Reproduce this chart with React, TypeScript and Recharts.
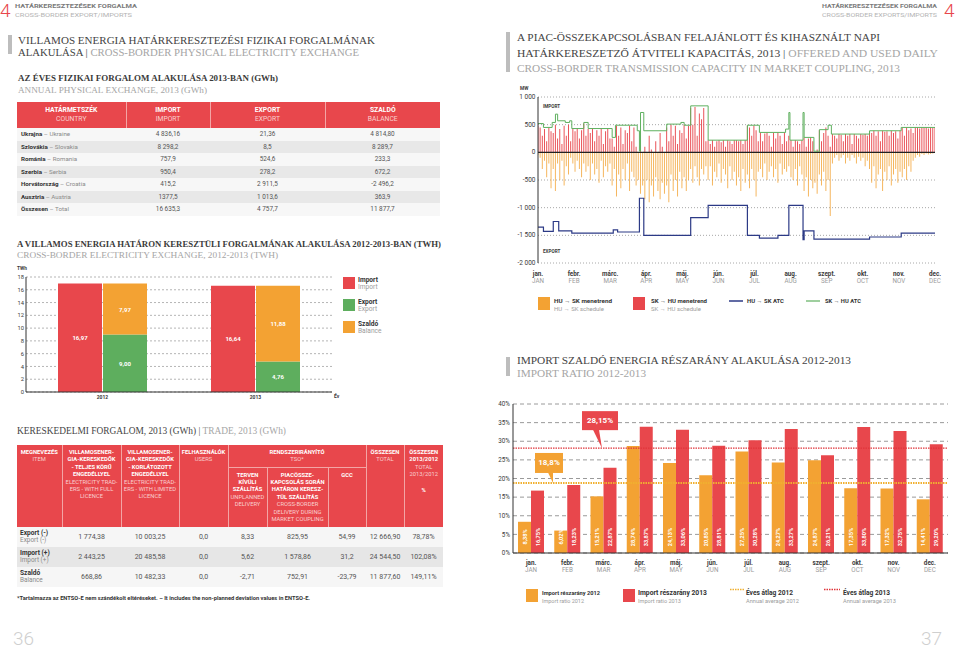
import React from 'react';
import {
  BarChart, Bar, XAxis, YAxis, CartesianGrid, LabelList, ReferenceLine,
  ComposedChart, Line,
} from 'recharts';

const SANS = 'Roboto, "Noto Sans", sans-serif';
const SERIF = '"Liberation Serif", "DejaVu Serif", serif';
const RED = '#e8474c';
const ORANGE = '#f3a233';
const GREEN = '#5fb05f';
const NAVY = '#2c3a86';
const DARK = '#3a3a3a';
const GRAY = '#9c9c9c';
const PINK = '#f9cfcf';
const TITLE_DARK = '#444';
const TITLE_GRAY = '#a5a5a5';

// ---------- Table 1: annual physical exchange 2013 (GWh)
const T1_HEAD_HU = ['HATÁRMETSZÉK', 'IMPORT', 'EXPORT', 'SZALDÓ'];
const T1_HEAD_EN = ['COUNTRY', 'IMPORT', 'EXPORT', 'BALANCE'];
const T1_COUNTRY_HU = ['Ukrajna', 'Szlovákia', 'Románia', 'Szerbia', 'Horvátország', 'Ausztria', 'Összesen'];
const T1_COUNTRY_EN = ['Ukraine', 'Slovakia', 'Romania', 'Serbia', 'Croatia', 'Austria', 'Total'];
const T1_IMPORT = ['4 836,16', '8 298,2', '757,9', '950,4', '415,2', '1377,5', '16 635,3'];
const T1_EXPORT = ['21,36', '8,5', '524,6', '278,2', '2 911,5', '1 013,6', '4 757,7'];
const T1_BALANCE = ['4 814,80', '8 289,7', '233,3', '672,2', '-2 496,2', '363,9', '11 877,7'];

// ---------- TWh chart
const TWH_YEARS = ['2012', '2013'];
const TWH_IMPORT = [16.97, 16.64];
const TWH_EXPORT = [9.0, 4.76];
const TWH_BALANCE = [7.97, 11.88];
const TWH_TICKS = [0, 2, 4, 6, 8, 10, 12, 14, 16, 18];

// ---------- Trade table
const TR_ITEM_HU = ['Export (-)', 'Import (+)', 'Szaldó'];
const TR_ITEM_EN = ['Export (-)', 'Import (+)', 'Balance'];
const TR_FULL = ['1 774,38', '2 443,25', '668,86'];
const TR_LIMITED = ['10 003,25', '20 485,58', '10 482,33'];
const TR_USERS = ['0,0', '0,0', '0,0'];
const TR_UNPLANNED = ['8,33', '5,62', '-2,71'];
const TR_COUPLING = ['825,95', '1 578,86', '752,91'];
const TR_GCC = ['54,99', '31,2', '-23,79'];
const TR_TOTAL = ['12 666,90', '24 544,50', '11 877,60'];
const TR_RATIO = ['78,78%', '102,08%', '149,11%'];

// ---------- Daily capacity chart (MW), one value per 2 days
const MONTH_HU = ['jan.', 'febr.', 'márc.', 'ápr.', 'máj.', 'jún.', 'júl.', 'aug.', 'szept.', 'okt.', 'nov.', 'dec.'];
const MONTH_EN = ['JAN', 'FEB', 'MAR', 'APR', 'MAY', 'JUN', 'JUL', 'AUG', 'SEP', 'OCT', 'NOV', 'DEC'];
const DAY_STEP = 2;
const SKHU_SCHEDULE = [
  480, 450, 300, 420, 200, 440, 380,
  350, 500, 250, 420, 150, 480, 300, 500, 200,
  420, 380, 430, 250, 400,
  520, 300,
  420, 350, 430, 200, 400, 300, 420, 150, 380, 420, 250,
  250, 100,
  480, 300, 450, 150, 400, 350, 480, 200, 450, 100,
  0, 50, 0,
  100, 0, 300, 50, 0, 200, 0, 350, 100, 0,
  450, 200, 500, 300, 480, 150, 400,
  350, 500, 250, 480,
  800, 500, 820, 300, 700, 600, 800, 200,
  220, 150, 220, 100, 200, 220, 180, 220, 100, 220, 200, 150, 220, 220,
  200, 220, 150, 220,
  480, 450, 300, 480, 400, 200,
  350, 200, 340, 360, 300, 100, 350, 250, 360, 300, 150, 350,
  200, 300, 220, 100, 220, 200, 150, 220,
  270, 100, 250, 270, 200,
  0, 50,
  400, 200, 350, 450, 300, 100,
  330, 300, 250, 330, 320, 200, 330, 300, 330, 150, 330, 300, 250, 330, 320, 330, 300,
  380, 350, 390, 300, 380, 200, 390, 370, 380, 300, 390, 350, 380, 250, 390,
  440, 300, 450, 400, 430, 350,
  440, 450, 430, 450, 440, 450, 430, 450, 440, 450,
];
const HUSK_SCHEDULE = [
  -50, -100, -300, -150, -450, -200, -650,
  -300, -700, -200, -500, -150, -600, -250, -400, -100,
  -200, -350, -150, -300, -450,
  -200, -350,
  -250, -500, -200, -400, -300, -550, -150, -450, -250, -350, -200,
  -600, -300,
  -800, -400, -650, -300, -500, -200, -700, -350, -450, -600,
  -500, -750, -600,
  -850, -500, -900, -600, -800, -450, -700, -850, -550, -750,
  -600, -900, -400, -700, -500, -800, -350,
  -650, -450, -700, -500,
  -300, -550, -250, -450, -600, -300, -400, -250,
  -500, -250, -600, -350, -450, -200, -550, -300, -400, -650, -250, -500, -350, -600,
  -450, -700, -300, -550,
  -400, -650, -300, -500, -800, -350,
  -300, -450, -200, -500, -350, -250, -450, -300, -550, -200, -400, -300,
  -350, -250, -450, -500, -300, -600, -250, -400,
  -700, -450, -800, -500, -650,
  -550, -750,
  -400, -600, -350, -700, -500, -1150,
  -200, -100, -50, -150, -100, -50, -200, -100, -150, -50, -100, -200, -80, -150, -100, -250, -150,
  -300, -550, -250, -650, -400, -300, -700, -350, -500, -250, -600, -400, -300, -550, -350,
  -450, -300, -500, -250, -350, -150,
  -100, -50, -80, -30, -50, -20, -40, -30, -20, -10,
];
const SKHU_ATC_DAY = [0, 5, 13, 16, 18, 25, 29, 31, 42, 46, 68, 71, 91, 93, 94, 97, 118, 131, 134, 140, 156, 192, 203, 227, 230, 231, 243, 244, 253, 258, 266, 269, 304, 333, 364];
const SKHU_ATC_MW = [520, 450, 540, 690, 570, 540, 570, 430, 540, 430, 270, 490, 390, 20, 720, 390, 510, 540, 490, 840, 220, 490, 360, 420, 720, 220, 720, 270, 20, 410, 490, 330, 390, 450, 450];
const HUSK_ATC_DAY = [0, 5, 14, 19, 31, 69, 73, 93, 97, 140, 156, 192, 203, 220, 230, 243, 244, 253, 304, 333, 364];
const HUSK_ATC_MW = [-1350, -1430, -1250, -1420, -1460, -1400, -1440, -830, -1500, -1180, -960, -1500, -1550, -1500, -960, -1580, -1420, -1570, -1530, -1460, -1460];
const MW_TICKS = [-2000, -1500, -1000, -500, 0, 500, 1000];

// ---------- Import ratio chart (%)
const RATIO_2012 = [8.38, 6.02, 15.21, 28.74, 24.13, 20.85, 27.25, 24.27, 24.87, 17.35, 17.32, 14.41];
const RATIO_2013 = [16.75, 18.23, 22.87, 33.87, 33.06, 28.81, 30.28, 33.27, 26.21, 33.8, 32.75, 29.2];
const AVG_2012 = 18.8;
const AVG_2013 = 28.15;
const PCT_TICKS = [0, 5, 10, 15, 20, 25, 30, 35, 40];

// ---------- derived tables for recharts
const TWH_DATA = TWH_YEARS.map((y, i) => ({ year: y, imp: TWH_IMPORT[i], exp: TWH_EXPORT[i], bal: TWH_BALANCE[i] }));
const DAILY = SKHU_SCHEDULE.map((v, i) => ({ day: i * DAY_STEP, skhu: v, husk: HUSK_SCHEDULE[i] }));
const GREEN_ATC = SKHU_ATC_DAY.map((d, i) => ({ day: d, mw: SKHU_ATC_MW[i] }));
const BLUE_ATC = HUSK_ATC_DAY.map((d, i) => ({ day: d, mw: HUSK_ATC_MW[i] }));
const MONTH_TICKS = MONTH_HU.map((_, i) => (i * 364) / 11);
const RATIO_DATA = MONTH_HU.map((m, i) => ({ m, r2012: RATIO_2012[i], r2013: RATIO_2013[i] }));

const comma = (v: number, d = 2) => v.toFixed(d).replace('.', ',');
const fmtMW = (v: number) => {
  const a = Math.abs(v);
  const s = a >= 1000 ? `${Math.floor(a / 1000)}\u00a0${String(a % 1000).padStart(3, '0')}` : String(a);
  return v < 0 ? `-${s}` : s;
};

const MWTick = (props: any) => {
  const { x, y, payload } = props;
  return (
    <text x={x} y={y} textAnchor="end" dominantBaseline="central" fontSize={6.5} fill={DARK} fontFamily={SANS}>
      {fmtMW(payload.value)}
    </text>
  );
};

const DailyMonthTick = (props: any) => {
  const { x, y, index } = props;
  return (
    <g>
      <text x={x} y={y + 10.5} textAnchor="middle" fontSize={6.3} fontWeight={700} fill={DARK} fontFamily={SANS}>{MONTH_HU[index]}</text>
      <text x={x} y={y + 18} textAnchor="middle" fontSize={6.3} fill={GRAY} fontFamily={SANS}>{MONTH_EN[index]}</text>
    </g>
  );
};

const RatioMonthTick = (props: any) => {
  const { x, y, index, payload } = props;
  return (
    <g>
      <text x={x} y={y + 9.5} textAnchor="middle" fontSize={6.3} fontWeight={700} fill={DARK} fontFamily={SANS}>{payload.value}</text>
      <text x={x} y={y + 17} textAnchor="middle" fontSize={6.3} fill={GRAY} fontFamily={SANS}>{MONTH_EN[index]}</text>
    </g>
  );
};

const VLabel = (props: any) => {
  const { x, y, width, height, value } = props;
  const cx = x + width / 2;
  const cy = y + height - 16;
  return (
    <text x={cx} y={cy} transform={`rotate(-90 ${cx} ${cy})`} textAnchor="middle" dominantBaseline="central"
      fill="#fff" fontSize={5.6} fontWeight={700} fontFamily={SANS}>{`${comma(value)}%`}</text>
  );
};

const CenterLabel = (props: any) => {
  const { x, y, width, height, value } = props;
  return (
    <text x={x + width / 2} y={y + height / 2} textAnchor="middle" dominantBaseline="central"
      fill="#fff" fontSize={6} fontWeight={700} fontFamily={SANS}>{comma(value)}</text>
  );
};

const makeCallout = (color: string, text: string, left: number, w: number, h: number, lift: number, p1: number, p2: number, tip: number) => (props: any) => {
  const vb = props.viewBox || {};
  const L = (vb.x || 0) + left;
  const ly = vb.y || 0;
  const bottom = ly - lift;
  return (
    <g>
      <rect x={L} y={bottom - h} width={w} height={h} fill={color} />
      <polygon points={`${L + p1},${bottom - 0.5} ${L + p2},${bottom - 0.5} ${L + tip},${ly}`} fill={color} />
      <text x={L + w / 2} y={bottom - h / 2} textAnchor="middle" dominantBaseline="central" fill="#fff"
        fontSize={8} fontWeight={700} fontFamily={SANS}>{text}</text>
    </g>
  );
};

const T = (p: any) => (
  <text x={p.x} y={p.y} fontSize={p.size} fill={p.fill || DARK} fontWeight={p.weight || 400}
    fontFamily={p.family || SANS} textAnchor={p.anchor || 'start'}
    {...(p.len ? { textLength: p.len, lengthAdjust: 'spacingAndGlyphs' } : {})}>{p.children}</text>
);

const thBase: React.CSSProperties = {
  padding: 0, textAlign: 'center', color: '#fff', fontFamily: SANS,
  borderLeft: '1px solid #f3a5a5', fontWeight: 400,
};

function Table1() {
  const widths = [109, 84, 115, 115];
  return (
    <table style={{ position: 'absolute', left: 17, top: 102, width: 423, borderCollapse: 'collapse', tableLayout: 'fixed', fontFamily: SANS }}>
      <colgroup>{widths.map((w, i) => <col key={i} style={{ width: w }} />)}</colgroup>
      <thead>
        <tr style={{ height: 26, background: RED }}>
          {T1_HEAD_HU.map((h, i) => (
            <th key={i} style={{ ...thBase, borderLeft: i === 0 ? 'none' : thBase.borderLeft }}>
              <div style={{ fontWeight: 700, fontSize: 6.8, lineHeight: '9.5px' }}>{h}</div>
              <div style={{ fontSize: 6.8, lineHeight: '9.5px', color: PINK }}>{T1_HEAD_EN[i]}</div>
            </th>
          ))}
        </tr>
      </thead>
      <tbody>
        {T1_COUNTRY_HU.map((c, i) => (
          <tr key={i} style={{ height: 12.5, background: i % 2 === 0 ? '#f7f7f7' : '#e8e8e8' }}>
            <td style={{ padding: '0 0 0 4px', fontSize: 6.2, lineHeight: '12px', whiteSpace: 'nowrap' }}>
              <span style={{ fontWeight: 700, color: '#333' }}>{c}</span>
              <span style={{ color: '#8a8a8a' }}>{` – ${T1_COUNTRY_EN[i]}`}</span>
            </td>
            {[T1_IMPORT[i], T1_EXPORT[i], T1_BALANCE[i]].map((v, j) => (
              <td key={j} style={{ padding: 0, textAlign: 'center', fontSize: 6.4, color: '#555', lineHeight: '12px' }}>{v}</td>
            ))}
          </tr>
        ))}
      </tbody>
    </table>
  );
}

const HeadCell = ({ hu, en, extra, rowSpan, colSpan, pad = 4 }: any) => (
  <th rowSpan={rowSpan} colSpan={colSpan} style={{ ...thBase, verticalAlign: 'top', paddingTop: pad }}>
    <div style={{ fontWeight: 700, fontSize: 5.8, lineHeight: '7.4px' }}>{hu}</div>
    {en && <div style={{ fontSize: 5.8, lineHeight: '7.4px', color: PINK }}>{en}</div>}
    {extra && <div style={{ fontSize: 5.8, lineHeight: '7.4px', color: PINK, marginTop: 8 }}>{extra}</div>}
  </th>
);

function TradeTable() {
  const widths = [45, 59, 58, 49, 39, 61, 38, 38, 39];
  const cols = [TR_FULL, TR_LIMITED, TR_USERS, TR_UNPLANNED, TR_COUPLING, TR_GCC, TR_TOTAL, TR_RATIO];
  return (
    <table style={{ position: 'absolute', left: 17, top: 445, width: 426, borderCollapse: 'collapse', tableLayout: 'fixed', fontFamily: SANS }}>
      <colgroup>{widths.map((w, i) => <col key={i} style={{ width: w }} />)}</colgroup>
      <thead style={{ background: RED }}>
        <tr style={{ height: 22 }}>
          <th rowSpan={2} style={{ ...thBase, borderLeft: 'none', verticalAlign: 'top', paddingTop: 4 }}>
            <div style={{ fontWeight: 700, fontSize: 5.8, lineHeight: '7.4px' }}>MEGNEVEZÉS</div>
            <div style={{ fontSize: 5.8, lineHeight: '7.4px', color: PINK }}>ITEM</div>
          </th>
          <HeadCell rowSpan={2} hu={<>VILLAMOSENER-<br />GIA-KERESKEDŐK<br />- TELJES KÖRŰ<br />ENGEDÉLLYEL</>} en={<>ELECTRICITY TRAD-<br />ERS - WITH FULL<br />LICENCE</>} />
          <HeadCell rowSpan={2} hu={<>VILLAMOSENER-<br />GIA-KERESKEDŐK<br />- KORLÁTOZOTT<br />ENGEDÉLLYEL</>} en={<>ELECTRICITY TRAD-<br />ERS - WITH LIMITED<br />LICENCE</>} />
          <HeadCell rowSpan={2} hu="FELHASZNÁLÓK" en="USERS" />
          <th colSpan={3} style={{ ...thBase, verticalAlign: 'top', paddingTop: 4, borderBottom: '1px solid #f3a5a5' }}>
            <div style={{ fontWeight: 700, fontSize: 5.8, lineHeight: '7.4px' }}>RENDSZERIRÁNYÍTÓ</div>
            <div style={{ fontSize: 5.8, lineHeight: '7.4px', color: PINK }}>TSO*</div>
          </th>
          <HeadCell rowSpan={2} hu="ÖSSZESEN" en="TOTAL" />
          <HeadCell rowSpan={2} hu={<>ÖSSZESEN<br />2013/2012</>} en={<>TOTAL<br />2013/2012</>} extra={<b style={{ color: '#fff' }}>%</b>} />
        </tr>
        <tr style={{ height: 60 }}>
          <HeadCell pad={4} hu={<>TERVEN<br />KÍVÜLI<br />SZÁLLÍTÁS</>} en={<>UNPLANNED<br />DELIVERY</>} />
          <HeadCell pad={4} hu={<>PIACÖSSZE-<br />KAPCSOLÁS SORÁN<br />HATÁRON KERESZ-<br />TÜL SZÁLLÍTÁS</>} en={<>CROSS-BORDER<br />DELIVERY DURING<br />MARKET COUPLING</>} />
          <HeadCell pad={4} hu="GCC" />
        </tr>
      </thead>
      <tbody>
        {TR_ITEM_HU.map((it, i) => (
          <tr key={i} style={{ height: 20, background: i % 2 === 0 ? '#f6f6f6' : '#e6e6e6' }}>
            <td style={{ padding: '0 0 0 3px', fontFamily: SANS }}>
              <div style={{ fontWeight: 700, fontSize: 6.6, lineHeight: '7.5px', color: '#333' }}>{it}</div>
              <div style={{ fontSize: 6.4, lineHeight: '7.5px', color: '#8a8a8a' }}>{TR_ITEM_EN[i]}</div>
            </td>
            {cols.map((c, j) => (
              <td key={j} style={{ padding: 0, textAlign: 'center', fontSize: 7, color: '#555', fontFamily: SANS }}>{c[i]}</td>
            ))}
          </tr>
        ))}
      </tbody>
    </table>
  );
}

function TwhChart() {
  return (
    <BarChart width={340} height={145} data={TWH_DATA} margin={{ top: 15, right: 8, left: 0, bottom: 0 }} barGap={1}>
      <CartesianGrid vertical={false} stroke="#b5b5b5" strokeDasharray="2 2" />
      <XAxis dataKey="year" height={15} tickLine={false} tickSize={0} tickMargin={3} axisLine={{ stroke: '#333' }}
        tick={{ fontSize: 5, fill: DARK, fontFamily: SANS, fontWeight: 700 }} />
      <YAxis domain={[0, 18]} ticks={TWH_TICKS} interval={0} width={26} tickLine={false} tickSize={0} tickMargin={2}
        axisLine={{ stroke: '#333' }} tick={{ fontSize: 5.8, fill: DARK, fontFamily: SANS }} />
      <Bar dataKey="imp" stackId="a" fill={RED} barSize={44} isAnimationActive={false}>
        <LabelList dataKey="imp" content={CenterLabel} />
      </Bar>
      <Bar dataKey="exp" stackId="b" fill="#5eae5e" barSize={44} isAnimationActive={false}>
        <LabelList dataKey="exp" content={CenterLabel} />
      </Bar>
      <Bar dataKey="bal" stackId="b" fill={ORANGE} barSize={44} isAnimationActive={false}>
        <LabelList dataKey="bal" content={CenterLabel} />
      </Bar>
    </BarChart>
  );
}

function DailyChart() {
  return (
    <ComposedChart width={450} height={215} data={DAILY} margin={{ top: 17, right: 15, left: 0, bottom: 0 }}
      stackOffset="sign" barGap={0}>
      <CartesianGrid vertical={false} stroke="#a8a8a8" strokeDasharray="1 2" />
      <XAxis type="number" dataKey="day" domain={[0, 364]} ticks={MONTH_TICKS} interval={0} tick={<DailyMonthTick />}
        axisLine={false} tickLine={false} tickSize={0} height={32} allowDataOverflow />
      <YAxis domain={[-2000, 1000]} ticks={MW_TICKS} interval={0} width={38}
        tick={<MWTick />} tickSize={0} tickMargin={2.5}
        axisLine={{ stroke: '#333' }} tickLine={false} />
      <Bar dataKey="husk" stackId="s" fill={ORANGE} fillOpacity={0.8} barSize={1.6} isAnimationActive={false} />
      <Bar dataKey="skhu" stackId="s" fill={RED} fillOpacity={0.95} barSize={1.6} isAnimationActive={false} />
      <ReferenceLine y={0} stroke="#222" strokeWidth={1.2} />
      <Line data={GREEN_ATC} dataKey="mw" type="stepAfter" stroke={GREEN} strokeWidth={1} dot={false} isAnimationActive={false} />
      <Line data={BLUE_ATC} dataKey="mw" type="stepAfter" stroke={NAVY} strokeWidth={1.2} dot={false} isAnimationActive={false} />
    </ComposedChart>
  );
}

function RatioChart() {
  return (
    <BarChart width={475} height={185} data={RATIO_DATA} margin={{ top: 9, right: 7, left: 0, bottom: 0 }} barGap={0}>
      <CartesianGrid vertical={false} stroke="#9a9a9a" strokeDasharray="4 3" />
      <XAxis dataKey="m" height={27} tick={<RatioMonthTick />} tickLine={false} tickSize={0} interval={0} axisLine={{ stroke: '#333' }} />
      <YAxis domain={[0, 40]} ticks={PCT_TICKS} interval={0} width={33} tickFormatter={(v: number) => `${v}%`}
        tick={{ fontSize: 6.3, fill: DARK, fontFamily: SANS }} tickSize={0} tickMargin={3}
        axisLine={{ stroke: '#333' }} tickLine={false} />
      <Bar dataKey="r2012" fill={ORANGE} barSize={13} isAnimationActive={false}>
        <LabelList dataKey="r2012" content={VLabel} />
      </Bar>
      <Bar dataKey="r2013" fill={RED} barSize={13} isAnimationActive={false}>
        <LabelList dataKey="r2013" content={VLabel} />
      </Bar>
      <ReferenceLine y={AVG_2012} stroke="#f0b030" strokeWidth={2} strokeDasharray="1.5 1"
        label={makeCallout(ORANGE, `${comma(AVG_2012, 1)}%`, 22, 28, 20, 10, 13, 18, 18)} />
      <ReferenceLine y={AVG_2013} stroke="#e0343a" strokeWidth={1.3} strokeDasharray="1.5 1"
        label={makeCallout(RED, `${comma(AVG_2013)}%`, 69, 36, 19, 18, 11, 17, 20)} />
    </BarChart>
  );
}

function Overlay() {
  return (
    <svg width={960} height={651} style={{ position: 'absolute', left: 0, top: 0, pointerEvents: 'none' }}>
      {/* page headers */}
      <T x={0} y={16.5} size={19} fill={RED} weight={300}>4</T>
      <T x={15} y={7.7} size={5.6} fill="#7a7a7a" weight={700} len={122}>HATÁRKERESZTEZÉSEK FORGALMA</T>
      <T x={15} y={16.7} size={5.6} fill="#b3b3b3" len={117}>CROSS-BORDER EXPORT/IMPORTS</T>
      <T x={937} y={7.7} size={5.6} fill="#7a7a7a" weight={700} anchor="end" len={115}>HATÁRKERESZTEZÉSEK FORGALMA</T>
      <T x={937} y={16.7} size={5.6} fill="#b3b3b3" anchor="end" len={115}>CROSS-BORDER EXPORTS/IMPORTS</T>
      <T x={944} y={16.5} size={19} fill={RED} weight={300}>4</T>

      {/* left title */}
      <rect x={8} y={35} width={4} height={19} fill="#bdbdbd" />
      <T x={18} y={43.5} size={11} family={SERIF} fill={TITLE_DARK} len={357}>VILLAMOS ENERGIA HATÁRKERESZTEZÉSI FIZIKAI FORGALMÁNAK</T>
      <T x={18} y={56} size={11} family={SERIF} fill={TITLE_DARK} len={341}>
        <tspan>ALAKULÁSA | </tspan><tspan fill={TITLE_GRAY}>CROSS-BORDER PHYSICAL ELECTRICITY EXCHANGE</tspan>
      </T>
      <T x={18} y={80.7} size={8} family={SERIF} fill="#3a3a3a" weight={700} len={260}>AZ ÉVES FIZIKAI FORGALOM ALAKULÁSA 2013-BAN (GWh)</T>
      <T x={18} y={92.8} size={8} family={SERIF} fill={TITLE_GRAY} len={189}>ANNUAL PHYSICAL EXCHANGE, 2013 (GWh)</T>

      {/* TWh chart title & legend */}
      <T x={17} y={247.3} size={8.5} family={SERIF} fill="#3a3a3a" weight={700} len={424}>A VILLAMOS ENERGIA HATÁRON KERESZTÜLI FORGALMÁNAK ALAKULÁSA 2012-2013-BAN (TWH)</T>
      <T x={17} y={257.5} size={8.5} family={SERIF} fill={TITLE_GRAY} len={261}>CROSS-BORDER ELECTRICITY EXCHANGE, 2012-2013 (TWH)</T>
      <T x={17} y={270} size={4.8} fill={DARK} weight={700}>TWh</T>
      <T x={334} y={397.5} size={5} fill={DARK} weight={700}>Év</T>
      <rect x={343} y={277} width={12} height={12} fill={RED} />
      <T x={358} y={281.5} size={6.6} fill="#333" weight={700}>Import</T>
      <T x={358} y={289.3} size={6.6} fill={GRAY}>Import</T>
      <rect x={343} y={299} width={12} height={12} fill="#5eae5e" />
      <T x={358} y={303.5} size={6.6} fill="#333" weight={700}>Export</T>
      <T x={358} y={311.3} size={6.6} fill={GRAY}>Export</T>
      <rect x={343} y={321} width={12} height={12} fill={ORANGE} />
      <T x={358} y={325.5} size={6.6} fill="#333" weight={700}>Szaldó</T>
      <T x={358} y={333.3} size={6.6} fill={GRAY}>Balance</T>

      {/* trade title & footnote */}
      <T x={17} y={434.3} size={9.3} family={SERIF} fill={TITLE_DARK} len={269}>
        <tspan>KERESKEDELMI FORGALOM, 2013 (GWh) | </tspan><tspan fill={TITLE_GRAY}>TRADE, 2013 (GWh)</tspan>
      </T>
      <T x={17} y={599.5} size={5.2} fill="#333" weight={700} len={293}>*Tartalmazza az ENTSO-E nem szándékolt eltéréseket. – It includes the non-planned deviation values in ENTSO-E.</T>

      {/* right title */}
      <rect x={506} y={32} width={4} height={40} fill="#bdbdbd" />
      <T x={517} y={40.7} size={11.3} family={SERIF} fill={TITLE_DARK} len={363}>A PIAC-ÖSSZEKAPCSOLÁSBAN FELAJÁNLOTT ÉS KIHASZNÁLT NAPI</T>
      <T x={517} y={56.7} size={11.3} family={SERIF} fill={TITLE_DARK} len={421}>
        <tspan>HATÁRKERESZETZŐ ÁTVITELI KAPACITÁS, 2013 | </tspan><tspan fill={TITLE_GRAY}>OFFERED AND USED DAILY</tspan>
      </T>
      <T x={517} y={71.7} size={11.3} family={SERIF} fill={TITLE_GRAY} len={383}>CROSS-BORDER TRANSMISSION CAPACITY IN MARKET COUPLING, 2013</T>

      {/* daily chart labels & legend */}
      <T x={520} y={89.5} size={4.8} fill={DARK} weight={700}>MW</T>
      <T x={543} y={108} size={4.6} fill={DARK} weight={700}>IMPORT</T>
      <T x={543} y={253.3} size={4.6} fill={DARK} weight={700}>EXPORT</T>
      <rect x={538} y={297} width={12} height={13} fill={ORANGE} />
      <T x={554} y={303.3} size={6} fill="#333" weight={700} len={58}>HU → SK menetrend</T>
      <T x={554} y={310.5} size={6} fill={GRAY} len={50}>HU → SK schedule</T>
      <rect x={633} y={297} width={12} height={13} fill={RED} />
      <T x={651} y={303.3} size={6} fill="#333" weight={700} len={56}>SK → HU menetrend</T>
      <T x={651} y={310.5} size={6} fill={GRAY} len={50}>SK → HU schedule</T>
      <line x1={729} y1={301} x2={743} y2={301} stroke={NAVY} strokeWidth={1.5} />
      <T x={747} y={303.3} size={6} fill="#333" weight={700} len={37}>HU → SK ATC</T>
      <line x1={806} y1={301} x2={820} y2={301} stroke={GREEN} strokeWidth={1.2} />
      <T x={825} y={303.3} size={6} fill="#333" weight={700} len={36}>SK → HU ATC</T>

      {/* ratio title & legend */}
      <rect x={506} y={357} width={4} height={19} fill="#bdbdbd" />
      <T x={517} y={364.3} size={10.8} family={SERIF} fill={TITLE_DARK} len={334}>IMPORT SZALDÓ ENERGIA RÉSZARÁNY ALAKULÁSA 2012-2013</T>
      <T x={517} y={376.7} size={10.8} family={SERIF} fill={TITLE_GRAY} len={129}>IMPORT RATIO 2012-2013</T>
      <rect x={526} y={589} width={12} height={13} fill={ORANGE} />
      <T x={542} y={595.3} size={6} fill="#333" weight={700} len={58}>Import részarány 2012</T>
      <T x={542} y={603} size={6} fill={GRAY} len={42}>Import ratio 2012</T>
      <rect x={623} y={589} width={12} height={13} fill={RED} />
      <T x={638} y={595.3} size={6.6} fill="#333" weight={700} len={69}>Import részarány 2013</T>
      <T x={638} y={603} size={6} fill={GRAY} len={43}>Import ratio 2013</T>
      <line x1={730} y1={589.5} x2={745} y2={589.5} stroke="#f0b030" strokeWidth={1.5} strokeDasharray="1.5 1" />
      <T x={746} y={595.3} size={6.6} fill="#333" weight={700} len={47}>Éves átlag 2012</T>
      <T x={746} y={603} size={6} fill={GRAY} len={53}>Annual average 2012</T>
      <line x1={824} y1={589.5} x2={840} y2={589.5} stroke="#e0343a" strokeWidth={1.5} strokeDasharray="1.5 1" />
      <T x={843} y={595.3} size={6.6} fill="#333" weight={700} len={47}>Éves átlag 2013</T>
      <T x={843} y={603} size={6} fill={GRAY} len={53}>Annual average 2013</T>

      {/* page numbers */}
      <T x={13} y={645} size={19} fill="#cfcfcf" weight={300}>36</T>
      <T x={921} y={645} size={19} fill="#cfcfcf" weight={300}>37</T>
    </svg>
  );
}

export default function App() {
  return (
    <div style={{ position: 'absolute', left: 0, top: 0, width: 960, height: 651, background: '#fff', overflow: 'hidden', fontFamily: SANS }}>
      <Table1 />
      <div style={{ position: 'absolute', left: 0, top: 262 }}><TwhChart /></div>
      <TradeTable />
      <div style={{ position: 'absolute', left: 500, top: 80 }}><DailyChart /></div>
      <div style={{ position: 'absolute', left: 480, top: 395 }}><RatioChart /></div>
      <Overlay />
    </div>
  );
}
